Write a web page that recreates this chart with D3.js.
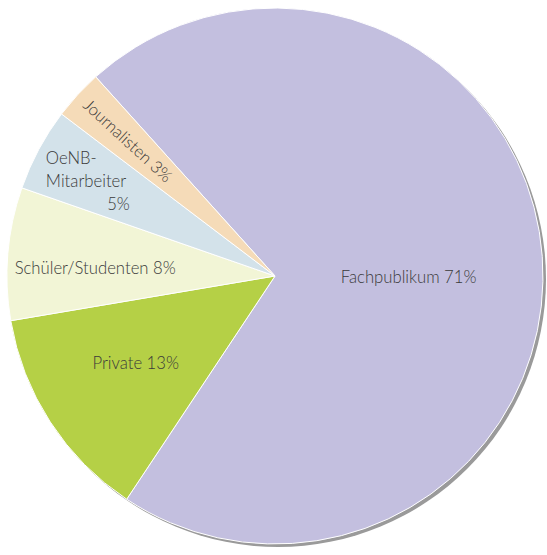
<!DOCTYPE html>
<html>
<head>
<meta charset="utf-8">
<script src="https://cdn.jsdelivr.net/npm/d3@7"></script>
<style>
  html, body { margin: 0; padding: 0; background: #fff; }
  svg { display: block; }
  text { font-family: Lato, "Open Sans", sans-serif; font-weight: 300; fill: #3a3a3a; }
</style>
</head>
<body>
<svg id="chart" width="547" height="555"></svg>
<script>
// ---- data ----
const categories = ["Fachpublikum", "Private", "Schüler/Studenten", "OeNB-Mitarbeiter", "Journalisten"];
const values = [71, 13, 8, 5, 3];
const valueLabels = ["71%", "13%", "8%", "5%", "3%"];
const colors = ["#c3bfdf", "#b5d046", "#f2f5d6", "#d3e2ea", "#f5dbb8"];

// ---- layout ----
const W = 547, H = 555;
const cx = 275, cy = 276, R = 268;
const startDeg = -42;

const svg = d3.select("#chart");
const g = svg.append("g").attr("transform", `translate(${cx},${cy})`);

const pie = d3.pie().sort(null).value(d => d.value)
  .startAngle(startDeg * Math.PI / 180)
  .endAngle((startDeg + 360) * Math.PI / 180);
const data = categories.map((c, i) => ({ name: c, value: values[i], label: valueLabels[i], color: colors[i] }));
const arcs = pie(data);
const arc = d3.arc().innerRadius(0).outerRadius(R);

// shadow
g.append("circle").attr("cx", 3).attr("cy", 3).attr("r", R).attr("fill", "#9a9a9a");

g.selectAll("path.slice").data(arcs).join("path")
  .attr("class", "slice")
  .attr("d", arc)
  .attr("fill", d => d.data.color)
  .attr("stroke", "#fff")
  .attr("stroke-width", 1);

const fs = 16.7;
function polar(a, r) { return [Math.sin(a) * r, -Math.cos(a) * r]; }
function mid(d) { return (d.startAngle + d.endAngle) / 2; }

// Fachpublikum
{
  const d = arcs[0];
  const [x, y] = polar(mid(d), 134);
  g.append("text").attr("x", x).attr("y", y + 17).attr("text-anchor", "middle")
    .attr("font-size", fs).text(d.data.name + " " + d.data.label);
}
// Private
{
  const d = arcs[1];
  const [x, y] = polar(mid(d) + 0.02, 164);
  g.append("text").attr("x", x).attr("y", y + 6).attr("text-anchor", "middle")
    .attr("font-size", fs).text(d.data.name + " " + d.data.label);
}
// Schüler/Studenten
{
  const d = arcs[2];
  const [x, y] = polar(mid(d) - 0.04, 180);
  g.append("text").attr("x", x).attr("y", y + 6).attr("text-anchor", "middle")
    .attr("font-size", fs).text(d.data.name + " " + d.data.label);
}
// OeNB-Mitarbeiter (3 lines)
{
  const d = arcs[3];
  const [x, y] = polar(mid(d) - 0.06, 205);
  const left = x - 43;
  g.append("text").attr("x", left).attr("y", y - 26).attr("font-size", fs).text("OeNB-");
  g.append("text").attr("x", left).attr("y", y - 3).attr("font-size", fs).text("Mitarbeiter");
  g.append("text").attr("x", left + 84).attr("y", y + 20).attr("text-anchor", "end").attr("font-size", fs).text(d.data.label);
}
// Journalisten (rotated along radius)
{
  const d = arcs[4];
  const a = mid(d);
  const [x, y] = polar(a, 200);
  const rot = a * 180 / Math.PI - 270;
  g.append("text").attr("transform", `translate(${x},${y}) rotate(${rot})`)
    .attr("text-anchor", "middle").attr("dy", "0.35em")
    .attr("font-size", fs).text(d.data.name + " " + d.data.label);
}
</script>
</body>
</html>
